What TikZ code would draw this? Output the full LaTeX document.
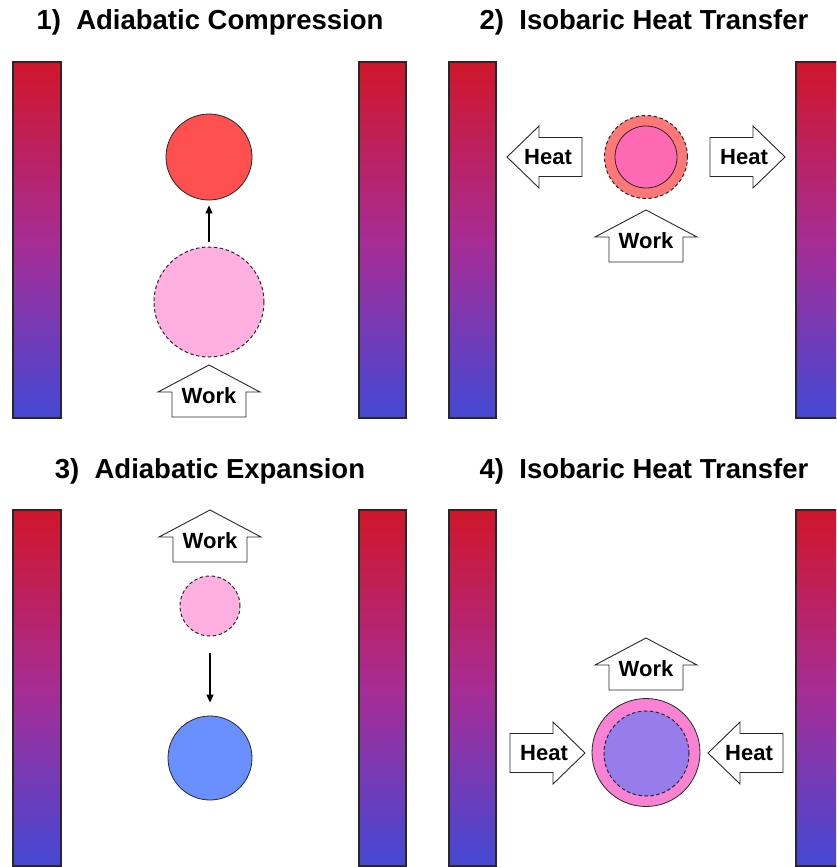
\documentclass[tikz,border=0pt]{standalone}
\usepackage{fontspec}
\setmainfont{Liberation Sans}
\usetikzlibrary{arrows.meta}

% reservoir gradient and fill colours
\definecolor{hotend}{RGB}{208,22,42}
\definecolor{midend}{RGB}{168,44,148}
\definecolor{coldend}{RGB}{68,72,212}
\definecolor{gasred}{RGB}{255,80,80}
\definecolor{gaspink}{RGB}{255,176,225}
\definecolor{gassalmon}{RGB}{255,120,120}
\definecolor{gasrose}{RGB}{255,105,180}
\definecolor{gasblue}{RGB}{106,143,255}
\definecolor{gasmagenta}{RGB}{250,130,210}
\definecolor{gasviolet}{RGB}{150,125,235}
\definecolor{edge}{RGB}{40,40,40}

\tikzset{
  reservoir/.style={draw=edge, line width=1.3pt, top color=hotend, bottom color=coldend, middle color=midend},
  title/.style={font=\bfseries\fontsize{27.5}{32}\selectfont, anchor=base},
  blockline/.style={draw=edge, fill=white, line width=0.9pt, line join=miter},
  blocklabel/.style={font=\bfseries\fontsize{22}{25}\selectfont, inner sep=0pt},
  gas/.style={circle, draw=edge, line width=0.8pt, inner sep=0pt},
  gasdashed/.style={gas, line width=1pt, dash pattern=on 3.5pt off 2.5pt},
  motion/.style={draw=black, line width=1.1pt, -{Triangle[length=8pt,width=7pt]}}
}

% upward block arrow: name, x of tip, y of tip, label
\newcommand\upblock[4]{%
  \draw[blockline] (#2,#3) -- ++(51,27) -- ++(-14,0) -- ++(0,25) -- ++(-74,0)
    -- ++(0,-25) -- ++(-14,0) -- cycle;
  \node[blocklabel] (#1) at (#2,#3+31) {#4};
}
% sideways block arrow: name, x of tip, y of centre, direction (1 right, -1 left), label
\newcommand\sideblock[5]{%
  \draw[blockline] (#2,#3) -- ++({-32*#4},-31) -- ++(0,11.5) -- ++({-43*#4},0)
    -- ++(0,39) -- ++({43*#4},0) -- ++(0,11.5) -- cycle;
  \node[blocklabel] (#1) at ({#2-41*#4},#3) {#5};
}

\begin{document}
\begin{tikzpicture}[x=1pt, y=-1pt]
\useasboundingbox (0,0) rectangle (836,867);
\clip (0,0) rectangle (836,867);

% hot/cold reservoirs
\foreach \yt/\yb in {62/418, 510/866} {
  \foreach \xl/\xr in {13/61, 359/406, 449/496, 796/850} {
    \path[reservoir] (\xl,\yt) rectangle (\xr,\yb);
  }
}

% stage titles
\node[title] (t1) at (210,30) {1)\ \ Adiabatic Compression};
\node[title] (t2) at (644,30) {2)\ \ Isobaric Heat Transfer};
\node[title] (t3) at (210,478) {3)\ \ Adiabatic Expansion};
\node[title] (t4) at (644,478) {4)\ \ Isobaric Heat Transfer};

% 1) adiabatic compression
\node[gas, fill=gasred, minimum size=86pt] (c1hot) at (209,157) {};
\node[gasdashed, fill=gaspink, minimum size=110pt] (c1start) at (209,302) {};
\draw[motion, shorten <=5pt, shorten >=5pt] (c1start.north) -- (c1hot.south);
\upblock{w1}{209}{365}{Work}

% 2) isobaric heat rejection
\node[gasdashed, fill=gassalmon, minimum size=83pt] (c2outer) at (646,157) {};
\node[gas, fill=gasrose, minimum size=62pt] (c2inner) at (646,157) {};
\sideblock{h2l}{507}{157}{-1}{Heat}
\sideblock{h2r}{785}{157}{1}{Heat}
\upblock{w2}{646}{210}{Work}

% 3) adiabatic expansion
\upblock{w3}{210}{510}{Work}
\node[gasdashed, fill=gaspink, minimum size=60pt] (c3start) at (210,606) {};
\node[gas, fill=gasblue, minimum size=84pt] (c3cold) at (210,758) {};
\draw[motion, shorten <=16pt, shorten >=13pt] (c3start.south) -- (c3cold.north);

% 4) isobaric heat addition
\upblock{w4}{646}{638}{Work}
\node[gas, fill=gasmagenta, minimum size=108pt] (c4outer) at (646,752.5) {};
\node[gasdashed, fill=gasviolet, minimum size=85pt] (c4inner) at (646.5,753.5) {};
\sideblock{h4l}{585}{753}{1}{Heat}
\sideblock{h4r}{708}{753}{-1}{Heat}
\end{tikzpicture}
\end{document}
